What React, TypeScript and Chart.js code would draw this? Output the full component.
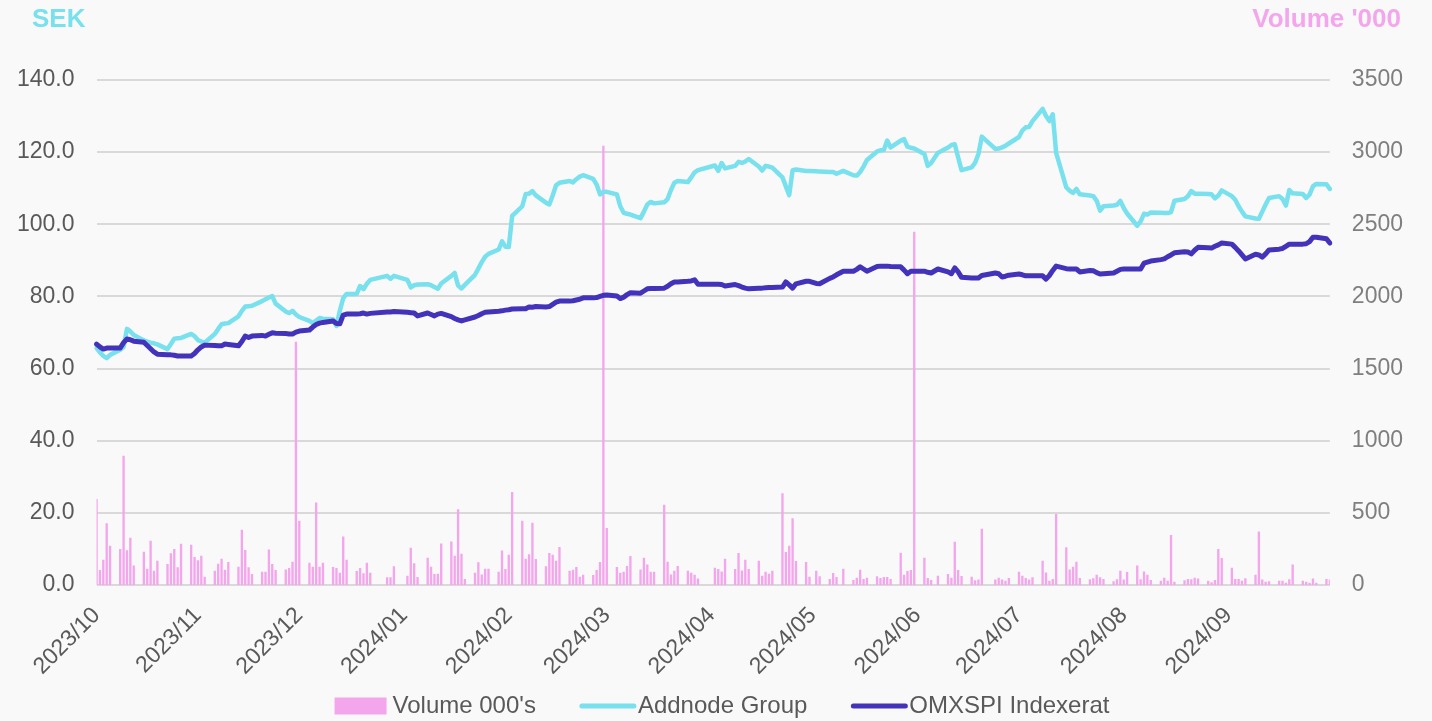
import React, { useEffect, useRef } from 'react';
import { Chart, registerables } from 'chart.js';

Chart.register(...registerables);

// ---- calendar ----
const FIRST_DAY = '2023-10-02';
const LAST_DAY = '2024-10-01';
const HOLIDAYS = [
  '2023-12-25', '2023-12-26', '2024-01-01', '2024-03-29', '2024-04-01',
  '2024-05-01', '2024-05-09', '2024-06-06', '2024-06-21',
];
const MONTH_LABELS = [
  '2023/10', '2023/11', '2023/12', '2024/01', '2024/02', '2024/03',
  '2024/04', '2024/05', '2024/06', '2024/07', '2024/08', '2024/09',
];

// ---- series (one value per trading day, one week per line) ----
const volume = [
  594, 102, 173, 425, 270,
  248, 894, 238, 326, 132,
  229, 111, 305, 97, 166,
  143, 217, 247, 120, 284,
  277, 192, 169, 201, 55,
  97, 145, 180, 104, 157,
  125, 381, 240, 120, 74,
  90, 90, 243, 143, 102,
  106, 116, 159, 1684, 443,
  152, 125, 570, 125, 152,
  122, 116, 83, 333, 173,
  95, 116, 79, 152, 83,
  51, 51, 127,
  62, 256, 148, 53,
  187, 125, 74, 76, 286,
  300, 201, 522, 215, 39,
  83, 155, 71, 111, 111,
  90, 236, 109, 208, 642,
  443, 180, 210, 430, 178,
  127, 219, 208, 166, 261,
  97, 104, 122, 55, 69,
  67, 102, 157, 3042, 393,
  122, 83, 90, 129, 199,
  106, 187, 139, 90, 90,
  554, 159, 71, 97, 129,
  97, 83, 69, 42,
  118, 109, 92, 180,
  109, 219, 99, 173, 109,
  166, 62, 90, 76, 97,
  633, 226, 270, 460, 164,
  157, 55, 97, 58,
  39, 81, 53, 111,
  32, 48, 104, 39, 48,
  58, 46, 53, 53, 39,
  222, 69, 95, 102, 2446,
  187, 46, 32, 62,
  74, 48, 298, 102, 60,
  55, 30, 35, 388,
  35, 48, 35, 28, 46,
  90, 62, 46, 35, 51,
  166, 85, 28, 39, 490,
  259, 106, 125, 159, 46,
  37, 44, 69, 51, 39,
  23, 37, 97, 35, 88,
  132, 37, 92, 69, 32,
  28, 48, 28, 344, 21,
  30, 39, 37, 48, 42,
  28, 16, 32, 247, 185,
  118, 39, 39, 28, 44,
  69, 369, 35, 21, 23,
  28, 28, 14, 37, 139,
  28, 21, 14, 42, 14,
  39, 35,
];

const addnode = [
  65.7, 64.5, 63.5, 62.9, 63.8,
  65.2, 66.0, 71.0, 70.3, 69.3,
  67.8, 67.5, 67.2, 67.0, 66.7,
  65.4, 66.8, 68.3, 68.4, 68.5,
  69.6, 69.0, 67.9, 67.5, 67.2,
  69.6, 71.0, 72.3, 72.5, 72.6,
  74.5, 76.0, 77.2, 77.3, 77.4,
  78.7, 79.2, 79.7, 80.1, 78.0,
  75.8, 75.4, 76.0, 75.0, 74.3,
  73.2, 72.6, 73.3, 74.0, 73.8,
  73.7, 71.8, 76.0, 79.5, 80.7,
  80.7, 82.9, 82.0, 83.5, 84.6,
  85.7, 84.9, 85.7,
  84.6, 82.5, 83.1, 83.3,
  83.4, 83.1, 82.6, 82.1, 83.6,
  85.7, 86.5, 83.0, 82.2, 83.2,
  86.0, 87.7, 89.5, 91.0, 91.8,
  93.0, 95.3, 93.8, 93.7, 102.3,
  105.0, 108.4, 108.5, 109.2, 108.0,
  106.0, 105.5, 108.0, 110.8, 111.5,
  112.0, 111.6, 112.5, 113.2, 113.6,
  112.6, 111.0, 108.3, 109.0, 109.0,
  108.3, 105.0, 103.2, 102.9, 102.7,
  101.7, 103.5, 105.5, 106.2, 105.8,
  106.1, 107.0, 109.5, 111.5, 112.0,
  111.7, 113.0, 114.4, 115.0,
  116.3, 114.8, 117.0, 115.5,
  116.2, 117.3, 117.0, 117.4, 118.1,
  116.0, 114.9, 116.2, 116.0, 115.7,
  113.0, 110.5, 108.1, 115.0, 115.2,
  114.8, 114.8, 114.7, 114.6,
  114.5, 114.5, 114.0, 114.8,
  113.6, 113.5, 114.5, 116.0, 117.8,
  120.2, 120.5, 120.6, 123.2, 121.3,
  123.2, 123.6, 121.5, 121.2, 121.0,
  119.5, 116.2, 117.0, 119.8,
  121.3, 122.0, 122.2, 118.5, 115.0,
  115.8, 117.0, 119.5, 124.3,
  120.9, 121.0, 121.3, 121.8, 122.4,
  124.2, 126.0, 126.9, 127.0, 128.6,
  132.0, 130.0, 128.6, 130.5, 119.8,
  110.2, 109.3, 108.7, 109.8, 108.3,
  108.0, 107.8, 106.5, 103.8, 105.0,
  105.2, 105.4, 106.5, 104.5, 103.0,
  99.6, 100.8, 102.9, 102.7, 103.3,
  103.2, 103.1, 103.1, 103.4, 106.5,
  107.0, 107.8, 109.2, 108.5, 108.5,
  108.4, 108.3, 107.2, 108.0, 109.4,
  107.8, 106.8, 105.0, 103.5, 102.2,
  101.6, 101.5, 103.5, 105.5, 107.3,
  107.8, 107.0, 105.2, 109.5, 108.6,
  108.4, 107.3, 108.2, 110.5, 111.2,
  111.1, 109.8,
];

const omxspi = [
  66.8, 66.0, 65.4, 65.7, 65.7,
  65.7, 67.2, 68.2, 68.0, 67.6,
  67.3, 66.4, 65.5, 64.6, 64.0,
  63.8, 63.8, 63.7, 63.5, 63.5,
  63.5, 64.2, 65.2, 66.0, 66.5,
  66.4, 66.3, 66.3, 66.8, 66.7,
  66.3, 67.5, 69.0, 68.6, 69.0,
  69.2, 69.0, 69.5, 69.9, 69.8,
  69.7, 69.6, 69.6, 70.1, 70.4,
  70.7, 71.5, 72.2, 72.6, 72.8,
  73.2, 72.5, 72.4, 74.8, 75.1,
  75.1, 75.2, 75.4, 75.1, 75.3,
  75.7, 75.7, 75.8,
  75.6, 75.5, 75.4, 74.6,
  75.4, 75.0, 74.6, 75.1, 75.3,
  74.4, 73.9, 73.5, 73.2, 73.5,
  74.3, 74.7, 75.2, 75.6, 75.7,
  75.9, 76.0, 76.2, 76.3, 76.5,
  76.6, 76.6, 77.1, 77.0, 77.2,
  77.1, 77.2, 77.8, 78.4, 78.7,
  78.7, 78.8, 79.0, 79.2, 79.6,
  79.6, 79.7, 80.0, 80.3, 80.4,
  80.1, 79.4, 79.8, 80.5, 81.0,
  80.9, 81.5, 82.1, 82.2, 82.2,
  82.3, 82.8, 83.5, 84.0, 84.0,
  84.2, 84.3, 84.6, 83.4,
  83.4, 83.4, 83.3, 82.9,
  83.3, 83.0, 82.6, 82.3, 82.1,
  82.3, 82.3, 82.4, 82.5, 82.5,
  82.6, 84.0, 83.2, 82.3, 83.5,
  84.2, 84.2, 83.6, 83.5,
  85.0, 85.4, 86.0, 87.0,
  87.0, 87.5, 88.2, 87.6, 87.0,
  88.3, 88.4, 88.4, 88.4, 88.3,
  88.2, 87.3, 86.3, 87.0, 87.0,
  87.0, 86.7, 86.5, 87.6,
  86.8, 86.3, 87.9, 86.8, 85.3,
  85.1, 85.1, 85.1, 85.8,
  86.5, 86.3, 85.4, 85.6, 85.9,
  86.2, 86.0, 85.7, 85.7, 85.7,
  85.7, 84.8, 85.8, 87.2, 88.4,
  87.7, 87.6, 87.6, 87.6, 86.8,
  87.2, 87.1, 86.6, 86.2, 86.3,
  86.5, 87.0, 87.5, 87.6, 87.6,
  87.6, 87.6, 89.2, 89.5, 89.8,
  90.2, 90.4, 91.0, 91.5, 92.1,
  92.4, 92.3, 91.8, 92.8, 93.6,
  93.5, 93.4, 93.9, 94.3, 94.8,
  94.5, 93.6, 92.6, 91.5, 90.4,
  91.7, 91.5, 90.9, 91.8, 92.9,
  93.1, 93.3, 93.9, 94.5, 94.5,
  94.5, 94.6, 95.2, 96.4, 96.4,
  96.0, 94.8,
];

const FONT = "'Liberation Sans', Arial, Helvetica, sans-serif";
const BG = '#f9f9f9';
const PINK = '#f4a6ec';
const CYAN = '#79e0ee';
const PURPLE = '#4333bb';
const TEXT = '#595959';
const Y_TICK_PAD = 22;

function buildData() {
  const days: string[] = [];
  const d = new Date(FIRST_DAY + 'T00:00:00Z');
  const end = new Date(LAST_DAY + 'T00:00:00Z');
  while (d.getTime() <= end.getTime()) {
    days.push(d.toISOString().slice(0, 10));
    d.setUTCDate(d.getUTCDate() + 1);
  }
  const vol: (number | null)[] = [];
  const add: (number | null)[] = [];
  const omx: (number | null)[] = [];
  let k = 0;
  days.forEach((ds) => {
    const wd = new Date(ds + 'T00:00:00Z').getUTCDay();
    const trading = wd !== 0 && wd !== 6 && HOLIDAYS.indexOf(ds) < 0;
    if (trading) {
      vol.push(k < volume.length ? volume[k] : null);
      add.push(k < addnode.length ? addnode[k] : null);
      omx.push(k < omxspi.length ? omxspi[k] : null);
      k++;
    } else {
      vol.push(null);
      add.push(null);
      omx.push(null);
    }
  });
  const tickIdx: number[] = [];
  const tickText: Record<number, string> = {};
  MONTH_LABELS.forEach((m) => {
    const key = m.replace('/', '-');
    const i = days.findIndex((ds) => ds.startsWith(key));
    if (i >= 0) {
      tickIdx.push(i);
      tickText[i] = m;
    }
  });
  return { days, vol, add, omx, tickIdx, tickText };
}

const bgPlugin = {
  id: 'bgFill',
  beforeDraw(chart: any) {
    const { ctx, width, height } = chart;
    ctx.save();
    ctx.fillStyle = BG;
    ctx.fillRect(0, 0, width, height);
    ctx.restore();
  },
};

const titlesPlugin = {
  id: 'axisTopTitles',
  afterDraw(chart: any) {
    const { ctx } = chart;
    ctx.save();
    ctx.font = `bold 26px ${FONT}`;
    ctx.textBaseline = 'alphabetic';
    ctx.fillStyle = CYAN;
    ctx.textAlign = 'left';
    ctx.fillText('SEK', 32, 27);
    ctx.fillStyle = PINK;
    ctx.textAlign = 'right';
    ctx.fillText("Volume '000", 1401, 27);
    ctx.restore();
  },
};

// legend drawn from the datasets (label + colour) below the axis labels
const legendPlugin = {
  id: 'bottomLegend',
  afterDraw(chart: any) {
    const { ctx } = chart;
    const sets = chart.data.datasets;
    const symW = 52;
    const textGap = 6;
    const itemGap = 44;
    const yMid = 706;
    ctx.save();
    ctx.font = `24px ${FONT}`;
    const widths = sets.map((s: any) => ctx.measureText(s.label).width);
    let total = 0;
    widths.forEach((w: number, i: number) => {
      total += symW + textGap + w + (i < widths.length - 1 ? itemGap : 0);
    });
    let x = 722 - total / 2;
    sets.forEach((s: any, i: number) => {
      if (s.type === 'bar') {
        ctx.fillStyle = s.backgroundColor;
        ctx.fillRect(x, yMid - 8.5, symW, 17);
      } else {
        ctx.strokeStyle = s.borderColor;
        ctx.lineWidth = 5;
        ctx.lineCap = 'round';
        ctx.beginPath();
        ctx.moveTo(x + 2, yMid);
        ctx.lineTo(x + symW + 2, yMid);
        ctx.stroke();
      }
      ctx.fillStyle = TEXT;
      ctx.textAlign = 'left';
      ctx.textBaseline = 'middle';
      ctx.fillText(s.label, x + symW + textGap, yMid);
      x += symW + textGap + widths[i] + itemGap;
    });
    ctx.restore();
  },
};

// Chart.js reserves the tick padding twice when sizing a vertical axis
const trimYAxis = (scale: any) => {
  scale.width = Math.max(0, scale.width - Y_TICK_PAD);
};

export default function App() {
  const ref = useRef<HTMLCanvasElement | null>(null);

  useEffect(() => {
    document.body.style.margin = '0';
    document.body.style.background = BG;
    const canvas = ref.current;
    if (!canvas) return;
    const { days, vol, add, omx, tickIdx, tickText } = buildData();

    const chart = new Chart(canvas, {
      type: 'bar',
      data: {
        labels: days,
        datasets: [
          {
            type: 'bar',
            label: "Volume 000's",
            data: vol,
            yAxisID: 'y1',
            backgroundColor: PINK,
            borderWidth: 0,
            barThickness: 1.7,
            order: 3,
          } as any,
          {
            type: 'line',
            label: 'Addnode Group',
            data: add,
            yAxisID: 'y',
            borderColor: CYAN,
            backgroundColor: CYAN,
            borderWidth: 4.5,
            pointRadius: 0,
            tension: 0,
            spanGaps: true,
            borderJoinStyle: 'round',
            borderCapStyle: 'round',
            order: 2,
          },
          {
            type: 'line',
            label: 'OMXSPI Indexerat',
            data: omx,
            yAxisID: 'y',
            borderColor: PURPLE,
            backgroundColor: PURPLE,
            borderWidth: 5,
            pointRadius: 0,
            tension: 0,
            spanGaps: true,
            borderJoinStyle: 'round',
            borderCapStyle: 'round',
            order: 1,
          },
        ],
      },
      options: {
        responsive: false,
        animation: false,
        events: [],
        layout: { padding: { left: 17, right: 29, top: 80, bottom: 36 } },
        scales: {
          x: {
            type: 'category',
            offset: false,
            grid: { display: false },
            border: { display: false },
            afterBuildTicks: (scale: any) => {
              scale.ticks = tickIdx.map((i) => ({ value: i }));
            },
            afterFit: (scale: any) => {
              scale.height = 100;
              scale.paddingLeft = 0;
              scale.paddingRight = 0;
            },
            ticks: {
              autoSkip: false,
              minRotation: 45,
              maxRotation: 45,
              padding: 9,
              color: TEXT,
              font: { family: FONT, size: 23 },
              callback: (value: any) => tickText[value as number] ?? '',
            },
          },
          y: {
            position: 'left',
            min: 0,
            max: 140,
            afterFit: trimYAxis,
            grid: { color: '#d9d9d9', lineWidth: 2, drawTicks: false },
            border: { display: false },
            ticks: {
              stepSize: 20,
              padding: Y_TICK_PAD,
              color: TEXT,
              font: { family: FONT, size: 23 },
              callback: (v: any) => Number(v).toFixed(1),
            },
          },
          y1: {
            position: 'right',
            min: 0,
            max: 3500,
            afterFit: trimYAxis,
            grid: { display: false, drawTicks: false },
            border: { display: false },
            ticks: {
              stepSize: 500,
              padding: Y_TICK_PAD,
              color: '#7f7f7f',
              font: { family: FONT, size: 23 },
              callback: (v: any) => String(v),
            },
          },
        },
        plugins: {
          tooltip: { enabled: false },
          legend: { display: false },
        },
      },
      plugins: [bgPlugin, titlesPlugin, legendPlugin],
    });

    return () => chart.destroy();
  }, []);

  return (
    <div style={{ width: 1432, height: 721, background: BG }}>
      <canvas ref={ref} width={1432} height={721} style={{ display: 'block' }} />
    </div>
  );
}
